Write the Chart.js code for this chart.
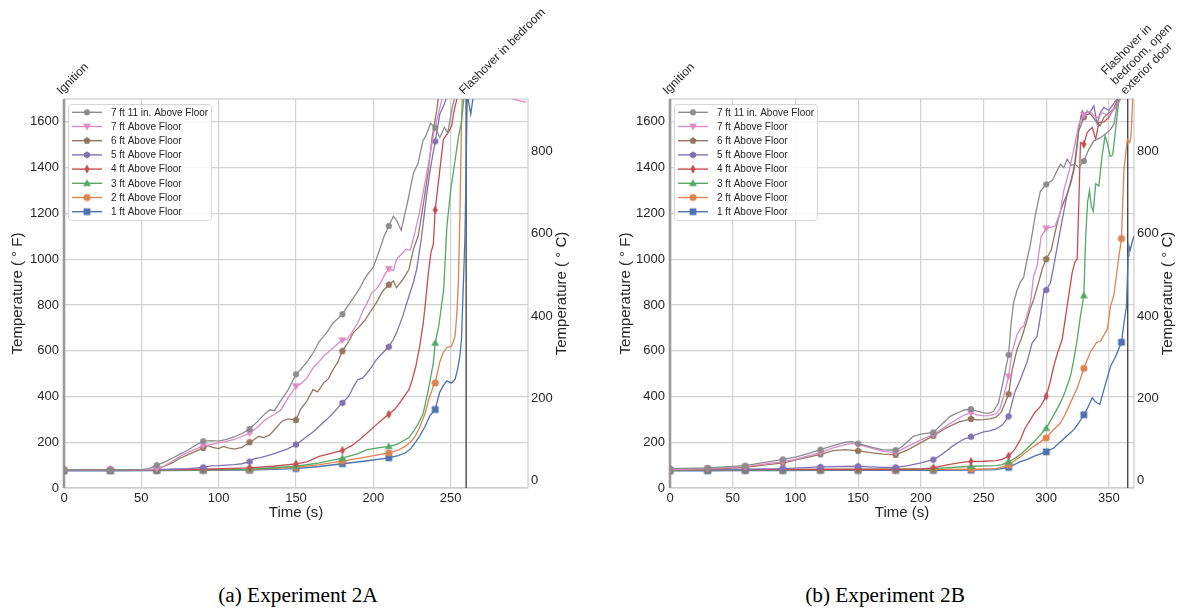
<!DOCTYPE html>
<html><head><meta charset="utf-8">
<script src="https://cdn.jsdelivr.net/npm/chart.js@4.4.0/dist/chart.umd.min.js"></script>
<style>
html,body{margin:0;padding:0;background:#fff;width:1177px;height:608px;overflow:hidden;position:relative;}
.cv{position:absolute;top:0;}
.cap{position:absolute;top:585px;font-family:"Liberation Serif","Times New Roman",serif;font-size:21.3px;line-height:21.3px;color:#000;white-space:nowrap;transform:translateX(-50%);}
</style></head><body>
<canvas id="cA" class="cv" width="589" height="530" style="left:0;width:589px;height:530px"></canvas>
<canvas id="cB" class="cv" width="588" height="530" style="left:589px;width:588px;height:530px"></canvas>
<div class="cap" style="left:298px">(a) Experiment 2A</div>
<div class="cap" style="left:885px">(b) Experiment 2B</div>
<script>
// ---------- DATA (time s, temperature °F) ----------
const seriesLabels = ['7 ft 11 in. Above Floor','7 ft Above Floor','6 ft Above Floor','5 ft Above Floor','4 ft Above Floor','3 ft Above Floor','2 ft Above Floor','1 ft Above Floor'];

// Experiment 2A
const A_7ft11 = [[0,80],[30,80],[50,80],[55,85],[60,100],[65,113],[70,130],[75,148],[80,165],[85,187],[90,205],[95,207],[100,205],[105,212],[110,223],[115,238],[120,258],[125,290],[130,325],[133,342],[136,338],[140,380],[145,430],[150,497],[153,518],[157,550],[161,590],[165,640],[170,680],[174,722],[177,740],[180,760],[184,800],[188,840],[191,870],[194,910],[197,940],[200,965],[204,1040],[207,1100],[210,1145],[213,1188],[215,1170],[218,1126],[222,1245],[226,1378],[229,1420],[232,1517],[234,1540],[237,1593],[240,1575],[243,1532],[246,1577],[248,1550],[251,1660],[253,1720],[256,1800]];
const A_7ft = [[0,80],[30,80],[55,80],[60,85],[65,97],[70,117],[75,138],[80,155],[85,170],[90,185],[95,190],[100,197],[105,204],[110,212],[115,225],[120,240],[125,265],[130,298],[135,318],[140,340],[145,395],[150,445],[153,455],[157,480],[161,525],[164,545],[168,578],[172,600],[176,625],[180,646],[183,650],[186,678],[190,722],[193,770],[196,809],[199,853],[202,870],[205,900],[208,940],[210,958],[213,950],[215,999],[219,1028],[221,1043],[224,1040],[227,1120],[230,1210],[233,1320],[236,1429],[239,1550],[241,1604],[244,1690],[246,1760],[289,1760],[290.5,1699],[293,1695],[296,1690],[299,1686]];
const A_6ft = [[0,78],[30,78],[55,78],[60,82],[65,95],[70,110],[75,130],[80,145],[85,160],[90,175],[93,185],[96,178],[100,172],[103,182],[106,175],[110,170],[115,178],[120,200],[123,212],[126,226],[129,220],[133,232],[137,262],[141,292],[145,302],[150,297],[153,345],[157,380],[161,430],[164,420],[168,460],[171,478],[174,518],[177,550],[180,598],[184,640],[187,678],[191,705],[195,737],[199,780],[202,810],[206,860],[210,888],[213,905],[215,875],[219,911],[223,955],[226,1045],[229,1100],[232,1225],[235,1360],[238,1532],[241,1650],[243,1760]];
const A_5ft = [[0,78],[30,78],[55,79],[60,80],[70,82],[80,85],[90,90],[95,97],[100,98],[110,102],[115,106],[120,115],[123,128],[127,133],[131,140],[135,148],[140,160],[145,172],[150,190],[153,204],[157,225],[161,245],[165,270],[170,300],[174,328],[177,350],[180,372],[184,400],[187,440],[190,474],[193,480],[196,503],[199,530],[202,561],[206,590],[210,617],[213,650],[215,678],[219,751],[223,838],[226,900],[228,955],[231,1087],[234.5,1284],[237,1400],[240,1515],[243,1634],[246,1680],[248,1720],[250,1800]];
const A_4ft = [[0,80],[30,80],[60,80],[90,82],[120,88],[135,95],[150,105],[157,114],[165,138],[172,150],[180,164],[186,185],[191,211],[196,240],[202,277],[206,300],[210,322],[214,345],[217,372],[220,400],[223,430],[225,470],[227.5,532],[230,620],[232.3,722],[234,830],[235.6,941],[237.3,1030],[238.8,1065],[240,1215],[243,1390],[245.3,1524],[248.5,1554],[250.7,1583],[252,1641],[254,1700],[256,1800]];
const A_3ft = [[0,78],[30,78],[60,78],[90,80],[120,82],[150,95],[165,110],[180,131],[190,150],[196,168],[203,175],[210,182],[215,190],[220.6,211],[223,220],[226,248],[229,280],[232.3,328],[235.6,430],[238.8,547],[240,634],[242.3,707],[245.5,868],[247.5,1138],[250,1300],[252.8,1429],[255,1532],[257,1600],[258.5,1700],[260,1800]];
const A_2ft = [[0,78],[30,78],[60,78],[90,79],[120,80],[150,90],[165,102],[180,117],[195,135],[210,153],[216,165],[220.6,182],[224,200],[227,226],[230,265],[233.5,328],[236,390],[238.8,445],[240,459],[242.8,547],[245,590],[247.4,613],[250.6,620],[252.8,663],[254,760],[255,900],[256,1200],[257,1600],[258,1800]];
const A_1ft = [[0,75],[30,75],[60,76],[90,77],[120,78],[150,85],[165,94],[180,106],[195,118],[210,132],[216,142],[220.6,153],[224,170],[227,197],[230,228],[233.5,270],[236.5,315],[240,343],[242.8,416],[245,445],[247.4,467],[250.6,459],[252.8,474],[254.5,520],[256,580],[257,649],[258,850],[259.2,1087],[260,1400],[260.7,1720],[263,1634],[264.8,1720],[266,1800]];

// Experiment 2B
const B_7ft11 = [[0,85],[30,88],[60,98],[90,125],[100,135],[110,150],[120,168],[130,185],[140,200],[145,203],[150,194],[160,180],[170,167],[180,166],[185,180],[194,226],[200,235],[210,243],[217,280],[223.4,313],[230,330],[235,342],[240,345],[245,336],[250,328],[254,326],[258,335],[262,372],[265,450],[268,530],[270,582],[272,720],[274,810],[276.5,860],[279.4,900],[282,920],[284.7,999],[287.4,1065],[291.4,1196],[295.4,1298],[300,1327],[305,1345],[308,1380],[311.4,1415],[314,1400],[316.7,1437],[320,1410],[323,1415],[326,1400],[330,1429],[334,1480],[338,1517],[343,1530],[348.7,1554],[351,1565],[354,1590],[356.7,1677],[358.5,1700],[361,1800]];
const B_7ft = [[0,80],[30,85],[60,93],[90,115],[100,125],[110,140],[120,155],[130,175],[140,190],[145,195],[150,190],[160,175],[170,160],[180,155],[190,183],[200,210],[210,233],[220,270],[230,305],[235,320],[240,328],[245,320],[250,315],[255,316],[260,325],[263,345],[266,400],[270,488],[273,600],[276.7,670],[280,700],[282,707],[285,760],[287.4,810],[290,926],[292.7,970],[296,1100],[300,1135],[303,1138],[307,1145],[311,1200],[314,1300],[318,1380],[322,1480],[326,1590],[330,1630],[333,1645],[336,1640],[340,1615],[345,1640],[350,1625],[355,1665],[359.5,1700],[362,1800]];
const B_6ft = [[0,80],[30,82],[60,90],[90,110],[120,147],[130,163],[140,168],[150,162],[160,155],[170,148],[180,145],[190,168],[200,198],[210,228],[220,262],[230,288],[240,302],[245,298],[250,299],[255,302],[260,310],[264,330],[267,368],[270,410],[273,520],[276.7,605],[280,650],[284,720],[287,780],[290,824],[294,900],[297,960],[300,1000],[304,1040],[308,1140],[311.4,1211],[314,1250],[316.7,1284],[320,1350],[323.3,1429],[326,1561],[330,1620],[332.7,1648],[336,1630],[340,1600],[343,1583],[346,1620],[350,1640],[355,1660],[359,1700],[362,1800]];
const B_5ft = [[0,80],[30,80],[60,82],[90,85],[120,92],[150,95],[160,92],[170,90],[180,90],[190,98],[200,110],[210,124],[215,140],[220,160],[225,182],[230,200],[235,215],[240,224],[245,235],[250,245],[255,250],[260,258],[265,275],[270,313],[275,420],[279.4,474],[284.7,550],[288.7,633],[292.7,663],[295.4,751],[298,853],[300,865],[303.4,897],[306,970],[309,1060],[312,1150],[316.7,1284],[319.3,1327],[322,1386],[326,1575],[328.7,1648],[331,1630],[334,1634],[338,1670],[340.7,1590],[343,1640],[346,1663],[350,1650],[355,1690],[358,1710],[361,1800]];
const B_4ft = [[0,80],[30,80],[60,80],[90,81],[120,82],[150,82],[180,82],[200,84],[210,88],[220,100],[230,110],[240,116],[250,117],[260,120],[265,125],[270,140],[275,170],[279.4,211],[283,260],[287.4,299],[291,330],[295.4,357],[300,401],[303,460],[306,532],[309,590],[312.7,649],[316.7,795],[320.7,941],[323,990],[324.7,1000],[325.5,1150],[326.3,1300],[327.3,1510],[330,1502],[332.7,1554],[336.7,1576],[339.4,1524],[342,1597],[346,1600],[350,1620],[354,1660],[357,1700],[360,1800]];
const B_3ft = [[0,78],[30,78],[60,79],[90,79],[120,80],[150,81],[180,82],[210,85],[240,95],[260,98],[265,102],[270,115],[275,130],[280,150],[285,175],[290,200],[295,230],[300,261],[305,310],[311.3,372],[315,420],[319.3,488],[322,560],[324.7,649],[327,740],[330,841],[331.5,1100],[333,1250],[334.5,1300],[336,1230],[337.5,1210],[339.5,1330],[342,1320],[344.5,1450],[347,1540],[349,1500],[351,1450],[353,1455],[355.5,1575],[358,1700],[360,1800]];
const B_2ft = [[0,78],[30,79],[60,80],[90,80],[120,80],[150,80],[180,80],[210,81],[240,82],[260,85],[270,100],[280,140],[290,182],[300,219],[305,250],[311.3,284],[315,320],[319.3,372],[325,440],[330,523],[335,591],[340,635],[343.3,642],[348.7,693],[351.3,795],[354,845],[358,1014],[360,1090],[362,1393],[364.7,1524],[366.5,1510],[367.5,1530],[369,1700],[371,1800]];
const B_1ft = [[0,75],[30,75],[60,76],[90,76],[120,77],[150,77],[180,77],[210,77],[240,78],[260,80],[270,90],[279.4,115],[285,125],[290,138],[300,158],[306,175],[312,205],[318,235],[322,255],[326,285],[330,320],[333,350],[336.7,394],[339,378],[342.7,365],[346,430],[351.3,532],[355,570],[360,637],[362,720],[364,795],[365.3,1014],[366,1057],[367,1040],[368.5,1075],[370,1100]];

const seriesA = [A_7ft11, A_7ft, A_6ft, A_5ft, A_4ft, A_3ft, A_2ft, A_1ft];
const seriesB = [B_7ft11, B_7ft, B_6ft, B_5ft, B_4ft, B_3ft, B_2ft, B_1ft];

const xTicksA = [0,50,100,150,200,250];
const xTicksB = [0,50,100,150,200,250,300,350];
const yTicksF = [0,200,400,600,800,1000,1200,1400,1600];
const yTicksC = [0,200,400,600,800];
const eventsA = [{t:0, text:['Ignition']},{t:260, text:['Flashover in bedroom']}];
const eventsB = [{t:0, text:['Ignition']},{t:365, text:['Flashover in','bedroom, open','exterior door']}];

// ---------- STYLE ----------
const FONT = '"Liberation Sans", Arial, sans-serif';
const TXT = '#262626';
const seriesStyle = [
  {color:'#8c8c8c', marker:'circle'},
  {color:'#da8bc3', marker:'triDown'},
  {color:'#937860', marker:'pentagon'},
  {color:'#8172b3', marker:'hexagon'},
  {color:'#c44e52', marker:'thinDiamond'},
  {color:'#55a868', marker:'triUp'},
  {color:'#dd8452', marker:'circleL'},
  {color:'#4c72b0', marker:'square'}
];

function makeMarker(shape, color){
  const c = document.createElement('canvas'); c.width = 12; c.height = 12;
  const g = c.getContext('2d'); g.fillStyle = color; g.translate(6,6); g.beginPath();
  const poly = (n,r)=>{ for(let k=0;k<n;k++){ const a=-Math.PI/2+k*2*Math.PI/n; const px=r*Math.cos(a), py=r*Math.sin(a); k?g.lineTo(px,py):g.moveTo(px,py);} };
  switch(shape){
    case 'circle': g.arc(0,0,3.1,0,2*Math.PI); break;
    case 'circleL': g.arc(0,0,3.6,0,2*Math.PI); break;
    case 'triDown': g.moveTo(-4,-2.8); g.lineTo(4,-2.8); g.lineTo(0,4); break;
    case 'triUp': g.moveTo(-4,2.8); g.lineTo(4,2.8); g.lineTo(0,-4); break;
    case 'square': g.rect(-3.4,-3.4,6.8,6.8); break;
    case 'thinDiamond': g.moveTo(0,-4.6); g.lineTo(2.6,0); g.lineTo(0,4.6); g.lineTo(-2.6,0); break;
    case 'pentagon': poly(5,3.7); break;
    case 'hexagon': poly(6,3.6); break;
  }
  g.closePath(); g.fill();
  return c;
}
const markerImgs = seriesStyle.map(s => makeMarker(s.marker, s.color));

const exptPlugin = {
  id: 'expt',
  beforeDatasetsDraw(chart){
    const a = chart.chartArea, ctx = chart.ctx;
    ctx.save(); ctx.strokeStyle = '#cccccc'; ctx.lineWidth = 1.2;
    ctx.strokeRect(a.left, a.top, a.right - a.left, a.bottom - a.top);
    ctx.restore();
  },
  afterDatasetsDraw(chart){
    const a = chart.chartArea, ctx = chart.ctx;
    const bx = a.left + 4, by = a.top + 5, bw = 143, bh = 116;
    ctx.save();
    ctx.beginPath();
    ctx.roundRect(bx + 0.5, by + 0.5, bw, bh, 3);
    ctx.fillStyle = 'rgba(255,255,255,0.85)'; ctx.fill();
    ctx.strokeStyle = '#d6d6d6'; ctx.lineWidth = 1; ctx.stroke();
    ctx.font = '10px ' + FONT; ctx.textBaseline = 'middle'; ctx.textAlign = 'left';
    seriesLabels.forEach((lab, i) => {
      const y = by + 8.3 + i * 14.2;
      ctx.strokeStyle = seriesStyle[i].color; ctx.lineWidth = 1.4;
      ctx.beginPath(); ctx.moveTo(bx + 4, y); ctx.lineTo(bx + 34, y); ctx.stroke();
      ctx.drawImage(markerImgs[i], bx + 19 - 6, y - 6);
      ctx.fillStyle = TXT; ctx.fillText(lab, bx + 43, y + 0.5);
    });
    ctx.restore();
  },
  afterDraw(chart, args, opts){
    const a = chart.chartArea, ctx = chart.ctx, xs = chart.scales.x;
    ctx.save();
    ctx.fillStyle = TXT; ctx.font = '12px ' + FONT; ctx.textAlign = 'left'; ctx.textBaseline = 'alphabetic';
    opts.events.forEach(ev => {
      const x = xs.getPixelForValue(ev.t);
      ctx.save(); ctx.translate(x - 2.5, a.top - 4); ctx.rotate(-Math.PI / 4);
      const n = ev.text.length;
      ev.text.forEach((ln, j) => ctx.fillText(ln, 0, -(n - 1 - j) * 13.8));
      ctx.restore();
    });
    ctx.save(); ctx.font = '15px ' + FONT; ctx.textAlign = 'center'; ctx.textBaseline = 'middle';
    ctx.translate(a.right + 34, (a.top + a.bottom) / 2); ctx.rotate(-Math.PI / 2);
    ctx.fillText('Temperature ( ° C)', 0, 0);
    ctx.restore();
    ctx.restore();
  }
};

function build(id, series, xMax, xTicks, events, leftW, rightW, yTitlePad){
  const ds = series.map((pts, i) => ({
    label: seriesLabels[i],
    data: pts.map(p => ({x: p[0], y: p[1]})),
    borderColor: seriesStyle[i].color,
    backgroundColor: seriesStyle[i].color,
    borderWidth: 1.3,
    pointStyle: markerImgs[i],
    pointRadius: c => (c.raw && c.raw.x % 30 === 0) ? 4 : 0,
    pointHoverRadius: 0,
    tension: 0, fill: false, yAxisID: 'y'
  }));
  // event lines (ignition / flashover)
  events.forEach(ev => {
    const isIgn = ev.t === 0;
    ds.push({
      label: '_ev', data: [{x: ev.t, y: 0}, {x: ev.t, y: 1700}],
      borderColor: isIgn ? '#9a9a9a' : '#3c3c3c', borderWidth: isIgn ? 2.6 : 1.3,
      pointRadius: 0, tension: 0, fill: false, yAxisID: 'y', clip: false
    });
  });
  const grid = {color: '#d2d2d2', lineWidth: 1.2, drawTicks: false};
  const plain = v => String(v);
  return new Chart(document.getElementById(id), {
    type: 'line',
    data: {datasets: ds},
    plugins: [exptPlugin],
    options: {
      responsive: false, animation: false, devicePixelRatio: 1,
      layout: {padding: {top: 99, left: 0, right: 0, bottom: 0}},
      events: [],
      plugins: {legend: {display: false}, tooltip: {enabled: false}, expt: {events: events}},
      scales: {
        x: {
          type: 'linear', min: 0, max: xMax,
          afterBuildTicks: s => { s.ticks = xTicks.map(v => ({value: v})); },
          afterFit: s => { s.height = 42; },
          grid: grid, border: {display: false},
          ticks: {font: {size: 13, family: FONT}, color: TXT, padding: 3, maxRotation: 0, callback: plain},
          title: {display: true, text: 'Time (s)', font: {size: 15, family: FONT}, color: TXT, padding: {top: 0, bottom: 8}}
        },
        y: {
          type: 'linear', position: 'left', min: 0, max: 1700,
          afterBuildTicks: s => { s.ticks = yTicksF.map(v => ({value: v})); },
          afterFit: s => { s.width = leftW; },
          grid: grid, border: {display: false},
          ticks: {font: {size: 13, family: FONT}, color: TXT, padding: 5, callback: plain},
          title: {display: true, text: 'Temperature ( ° F)', font: {size: 15, family: FONT}, color: TXT, padding: {top: yTitlePad, bottom: 0}}
        },
        y2: {
          type: 'linear', position: 'right', min: (0 - 32) * 5 / 9, max: (1700 - 32) * 5 / 9,
          afterBuildTicks: s => { s.ticks = yTicksC.map(v => ({value: v})); },
          afterFit: s => { s.width = rightW; },
          grid: {display: false, drawTicks: false}, border: {display: false},
          ticks: {font: {size: 13, family: FONT}, color: TXT, padding: 3, callback: plain}
        }
      }
    }
  });
}

build('cA', seriesA, 300, xTicksA, eventsA, 64, 61, 9);
build('cB', seriesB, 370, xTicksB, eventsB, 81, 43, 28);
</script>
</body></html>
